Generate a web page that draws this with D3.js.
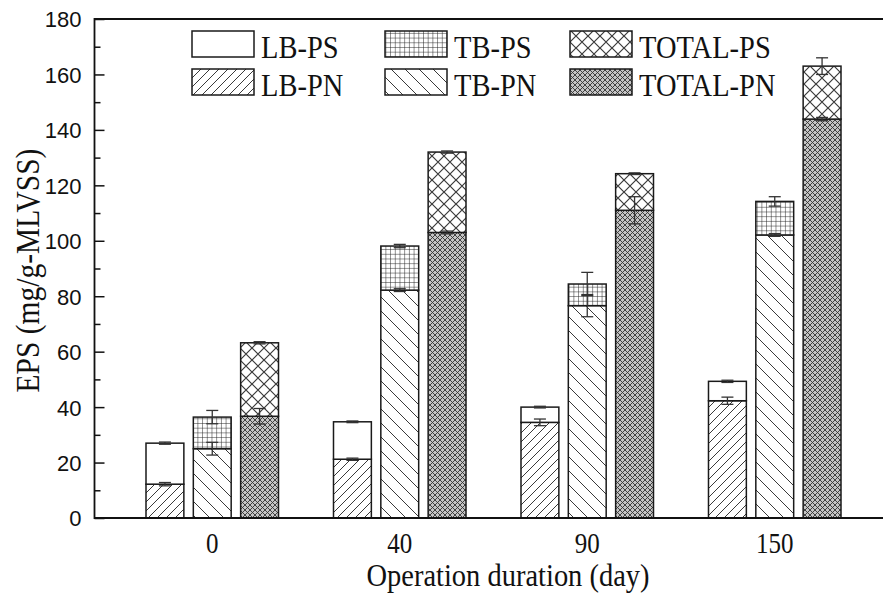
<!DOCTYPE html>
<html>
<head>
<meta charset="utf-8">
<script src="https://cdn.jsdelivr.net/npm/d3@7"></script>
<style>
  html, body { margin: 0; padding: 0; background: #fff; }
  svg { display: block; }
  .serif { font-family: "Liberation Serif", "Times New Roman", serif; fill: #111; }
  .sans { font-family: "Liberation Sans", Arial, sans-serif; fill: #111; }
</style>
</head>
<body>
<svg id="chart" width="883" height="593"></svg>
<script>
// Operation days (x categories)
const days = ["0", "40", "90", "150"];

// PN (bottom) and PS (top) portions of each stacked bar, mg/g-MLVSS
const lbPN    = [12.2, 21.2, 34.5, 42.3];
const lbPS    = [14.8, 13.5, 5.5, 7.0];
const tbPN    = [25.0, 82.2, 76.6, 102.1];
const tbPS    = [11.4, 15.9, 7.8, 12.1];
const totalPN = [36.7, 103.0, 111.0, 143.9];
const totalPS = [26.5, 29.0, 13.2, 19.1];

// Standard deviations: PN error sits at the PN top, PS error at the stack top
const lbPNErr    = [0.6, 0.4, 1.2, 1.3];
const lbPSErr    = [0.4, 0.3, 0.3, 0.4];
const tbPNErr    = [2.3, 0.5, 4.0, 0.5];
const tbPSErr    = [2.4, 0.6, 4.2, 1.7];
const totalPNErr = [2.8, 0.5, 4.9, 0.6];
const totalPSErr = [0.4, 0.4, 0.3, 3.0];

const yTicks = [0, 20, 40, 60, 80, 100, 120, 140, 160, 180];
const groups = ["LB", "TB", "TOTAL"];

const svg = d3.select("#chart");
const plot = { left: 94.5, top: 19, bottom: 518, right: 883 };
const tall = 1.15; // serif lettering is drawn slightly elongated

const y = d3.scaleLinear().domain([0, 180]).range([plot.bottom, plot.top]);
const x = d3.scaleBand().domain(days).range([146, 841]).paddingInner(0.2933).paddingOuter(0);
const xs = d3.scaleBand().domain(groups).range([0, x.bandwidth()]).paddingInner(0.2);

// ---------- hatch patterns ----------
const defs = svg.append("defs");
function pat(id, w, h, bg, draw) {
  const p = defs.append("pattern").attr("id", id).attr("patternUnits", "userSpaceOnUse")
    .attr("width", w).attr("height", h);
  p.append("rect").attr("width", w).attr("height", h).attr("fill", bg);
  draw(p);
}
pat("p-lbps", 10, 10, "#fff", () => {});
pat("p-lbpn", 9, 9, "#fff", p => p.append("path")
  .attr("d", "M0,9 L9,0 M-3,3 L3,-3 M6,12 L12,6")
  .attr("stroke", "#3a3a3a").attr("stroke-width", 1).attr("fill", "none"));
pat("p-tbpn", 14, 14, "#fff", p => p.append("path")
  .attr("d", "M0,0 L14,14 M-4,10 L4,18 M10,-4 L18,4")
  .attr("stroke", "#3a3a3a").attr("stroke-width", 1).attr("fill", "none"));
pat("p-tbps", 4.7, 4.7, "#fff", p => p.append("path")
  .attr("d", "M0,0 L4.7,0 M0,0 L0,4.7")
  .attr("stroke", "#222").attr("stroke-width", 1).attr("fill", "none"));
pat("p-totps", 12, 12, "#fff", p => p.append("path")
  .attr("d", "M0,0 L12,12 M12,0 L0,12")
  .attr("stroke", "#3a3a3a").attr("stroke-width", 1.2).attr("fill", "none"));
pat("p-totpn", 5, 5, "#c4c4c4", p => p.append("path")
  .attr("d", "M0,0 L5,5 M5,0 L0,5")
  .attr("stroke", "#333").attr("stroke-width", 0.9).attr("fill", "none"));

// ---------- stacked bars ----------
const series = [
  { g: "LB",    pn: lbPN,    ps: lbPS,    pnE: lbPNErr,    psE: lbPSErr,    fPN: "p-lbpn",  fPS: "p-lbps" },
  { g: "TB",    pn: tbPN,    ps: tbPS,    pnE: tbPNErr,    psE: tbPSErr,    fPN: "p-tbpn",  fPS: "p-tbps" },
  { g: "TOTAL", pn: totalPN, ps: totalPS, pnE: totalPNErr, psE: totalPSErr, fPN: "p-totpn", fPS: "p-totps" }
];

const barLayer = svg.append("g");
const errLayer = svg.append("g");
const cap = 6;

series.forEach(s => {
  days.forEach((d, i) => {
    const x0 = x(d) + xs(s.g), bw = xs.bandwidth();
    const pnTop = s.pn[i], stackTop = s.pn[i] + s.ps[i];
    barLayer.append("rect")
      .attr("x", x0).attr("y", y(pnTop)).attr("width", bw).attr("height", y(0) - y(pnTop))
      .attr("fill", `url(#${s.fPN})`).attr("stroke", "#1a1a1a").attr("stroke-width", 1.5);
    barLayer.append("rect")
      .attr("x", x0).attr("y", y(stackTop)).attr("width", bw).attr("height", y(pnTop) - y(stackTop))
      .attr("fill", `url(#${s.fPS})`).attr("stroke", "#1a1a1a").attr("stroke-width", 1.5);

    const cx = x0 + bw / 2;
    [[pnTop, s.pnE[i]], [stackTop, s.psE[i]]].forEach(([v, e]) => {
      const g = errLayer.append("g").attr("stroke", "#333").attr("stroke-width", 1.3).attr("fill", "none");
      g.append("line").attr("x1", cx).attr("x2", cx).attr("y1", y(v + e)).attr("y2", y(v - e));
      g.append("line").attr("x1", cx - cap).attr("x2", cx + cap).attr("y1", y(v + e)).attr("y2", y(v + e));
      g.append("line").attr("x1", cx - cap).attr("x2", cx + cap).attr("y1", y(v - e)).attr("y2", y(v - e));
    });
  });
});

// ---------- axes ----------
// minor ticks every 10
svg.append("g").attr("transform", `translate(${plot.left},0)`)
  .call(d3.axisLeft(y).tickValues(d3.range(10, 180, 20)).tickSize(-6).tickFormat(""))
  .call(g => g.select(".domain").remove())
  .call(g => g.selectAll("line").attr("stroke", "#111").attr("stroke-width", 1.5));

svg.append("g").attr("transform", `translate(${plot.left},0)`)
  .call(d3.axisLeft(y).tickValues(yTicks).tickSize(-10).tickPadding(13).tickFormat(d3.format("d")))
  .call(g => g.select(".domain").remove())
  .call(g => g.selectAll("line").attr("stroke", "#111").attr("stroke-width", 1.5))
  .call(g => g.selectAll("text").attr("class", "sans").attr("font-size", 22).attr("dy", "0.36em"));

// frame: left, top, bottom
svg.append("path")
  .attr("d", `M${plot.right},${plot.top} L${plot.left},${plot.top} L${plot.left},${plot.bottom} L${plot.right},${plot.bottom}`)
  .attr("fill", "none").attr("stroke", "#111").attr("stroke-width", 1.8);

// x tick labels (no tick marks)
svg.append("g").attr("transform", `translate(0,${plot.bottom})`)
  .call(d3.axisBottom(x).tickSize(0))
  .call(g => g.select(".domain").remove())
  .call(g => g.selectAll("text").attr("class", "serif").attr("font-size", 25)
    .attr("y", 0).attr("dy", null)
    .attr("transform", `translate(0,35) scale(1,${tall})`));

// axis titles
svg.append("text").attr("class", "serif").attr("font-size", 28.5)
  .attr("transform", `translate(508,586) scale(1,1.1)`).attr("text-anchor", "middle")
  .text("Operation duration (day)");
svg.append("text").attr("class", "serif").attr("font-size", 29.5)
  .attr("transform", `translate(39,${(plot.top + plot.bottom) / 2 + 2}) rotate(-90) scale(1,${tall})`)
  .attr("text-anchor", "middle")
  .text("EPS (mg/g-MLVSS)");

// ---------- legend ----------
const legendItems = [
  { label: "LB-PS",    fill: "p-lbps",  col: 0, row: 0 },
  { label: "LB-PN",    fill: "p-lbpn",  col: 0, row: 1 },
  { label: "TB-PS",    fill: "p-tbps",  col: 1, row: 0 },
  { label: "TB-PN",    fill: "p-tbpn",  col: 1, row: 1 },
  { label: "TOTAL-PS", fill: "p-totps", col: 2, row: 0 },
  { label: "TOTAL-PN", fill: "p-totpn", col: 2, row: 1 }
];
const colX = [192, 385, 570];
const rowY = [31, 69];
const legend = svg.append("g");
legendItems.forEach(it => {
  const gx = colX[it.col], gy = rowY[it.row];
  legend.append("rect").attr("x", gx).attr("y", gy).attr("width", 62).attr("height", 26)
    .attr("fill", `url(#${it.fill})`).attr("stroke", "#1a1a1a").attr("stroke-width", 1.5);
  legend.append("text").attr("class", "serif").attr("font-size", 28.5)
    .attr("transform", `translate(${gx + 69},${gy + 27}) scale(1,1.12)`).text(it.label);
});
</script>
</body>
</html>
